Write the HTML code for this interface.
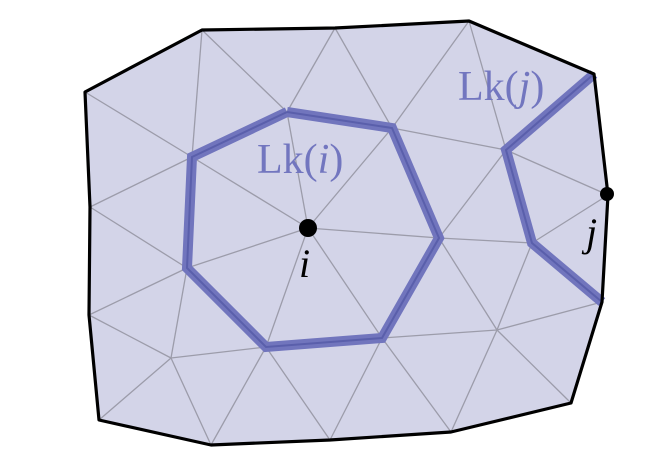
<!DOCTYPE html>
<html><head><meta charset="utf-8"><style>
html,body{margin:0;padding:0;background:#fff;}
svg{display:block;}
text{font-family:"Liberation Serif",serif;}
</style></head><body>
<svg id="fig" width="669" height="473" viewBox="0 0 669 473" xmlns="http://www.w3.org/2000/svg">
<g id="fill"></g>
<g id="edges"></g>
<g id="links"></g>
<g id="border"></g>
<circle cx="308" cy="228" r="9" fill="#000"/>
<circle cx="607" cy="194" r="7" fill="#000"/>
<text x="257" y="173" font-size="42" fill="#7276bf">Lk(<tspan font-style="italic">i</tspan>)</text>
<text x="458" y="100" font-size="42" fill="#7276bf">Lk(<tspan font-style="italic">j</tspan>)</text>
<text x="299" y="277" font-size="40" font-style="italic" fill="#000">i</text>
<text x="586" y="246" font-size="40" font-style="italic" fill="#000">j</text>
</svg>
<script>
const V = {
 B0:[85,92],B1:[202,30],B2:[335,28],B3:[469,21],B4:[594,74],Bj:[608,195],B5:[602,302],
 B6:[571,403],B7:[451,432],B8:[330,440],B9:[211,445],B10:[99,420],B11:[89,315],B12:[90,207],
 P1:[287,112],P2:[392,128],P3:[439,238],P4:[382,338],P5:[266,347],P6:[187,268],P7:[192,157],
 I:[308,228],Q1:[506,150],Q2:[532,243],Q3:[497,330],Q4:[171,358]
};
const boundary = ["B0","B1","B2","B3","B4","Bj","B5","B6","B7","B8","B9","B10","B11","B12"];
const edges = [
 ["B0","P7"],["B1","P7"],["B1","P1"],["B2","P1"],["B2","P2"],["B3","P2"],["B3","Q1"],
 ["Q1","Bj"],["Q2","Bj"],["P2","Q1"],["P3","Q1"],["P3","Q2"],["P3","Q3"],["Q2","Q3"],
 ["Q3","B5"],["Q3","B6"],["Q3","B7"],["Q3","P4"],["P4","B7"],["P4","B8"],["P5","B8"],
 ["P5","B9"],["Q4","B9"],["Q4","B10"],["Q4","P5"],["Q4","P6"],["Q4","B11"],["P6","B11"],
 ["P6","B12"],["P7","B12"],
 ["I","P1"],["I","P2"],["I","P3"],["I","P4"],["I","P5"],["I","P6"],["I","P7"]
];
const linkI = ["P1","P2","P3","P4","P5","P6","P7","P1"];
const linkJ = ["B4","Q1","Q2","B5"];
const NS="http://www.w3.org/2000/svg";
function pts(a){return a.map(k=>V[k].join(",")).join(" ");}
const fillEl=document.createElementNS(NS,"polygon");


fillEl.setAttribute("points",pts(boundary));
fillEl.setAttribute("fill","#d3d4e8");
document.getElementById("fill").appendChild(fillEl);
edges.forEach(e=>{
 const l=document.createElementNS(NS,"line");
 
 
 l.setAttribute("x1",V[e[0]][0]);l.setAttribute("y1",V[e[0]][1]);
 l.setAttribute("x2",V[e[1]][0]);l.setAttribute("y2",V[e[1]][1]);
 l.setAttribute("stroke","#9c9caa");l.setAttribute("stroke-width","1.3");
 document.getElementById("edges").appendChild(l);
});
[linkI,linkJ].forEach((p,idx)=>{
 const a=document.createElementNS(NS,"polyline");
 
 
 a.setAttribute("points",pts(p));a.setAttribute("fill","none");
 a.setAttribute("stroke","#7175bd");a.setAttribute("stroke-width","10");
 a.setAttribute("stroke-linejoin","miter");
 document.getElementById("links").appendChild(a);
 const b=document.createElementNS(NS,"polyline");
 
 
 b.setAttribute("points",pts(p));b.setAttribute("fill","none");
 b.setAttribute("stroke","#5a5fab");b.setAttribute("stroke-width","2");
 document.getElementById("links").appendChild(b);
});
const bd=document.createElementNS(NS,"polygon");


bd.setAttribute("points",pts(boundary));bd.setAttribute("fill","none");
bd.setAttribute("stroke","#000");bd.setAttribute("stroke-width","3.2");
bd.setAttribute("stroke-linejoin","round");
document.getElementById("border").appendChild(bd);
</script>
</body></html>
